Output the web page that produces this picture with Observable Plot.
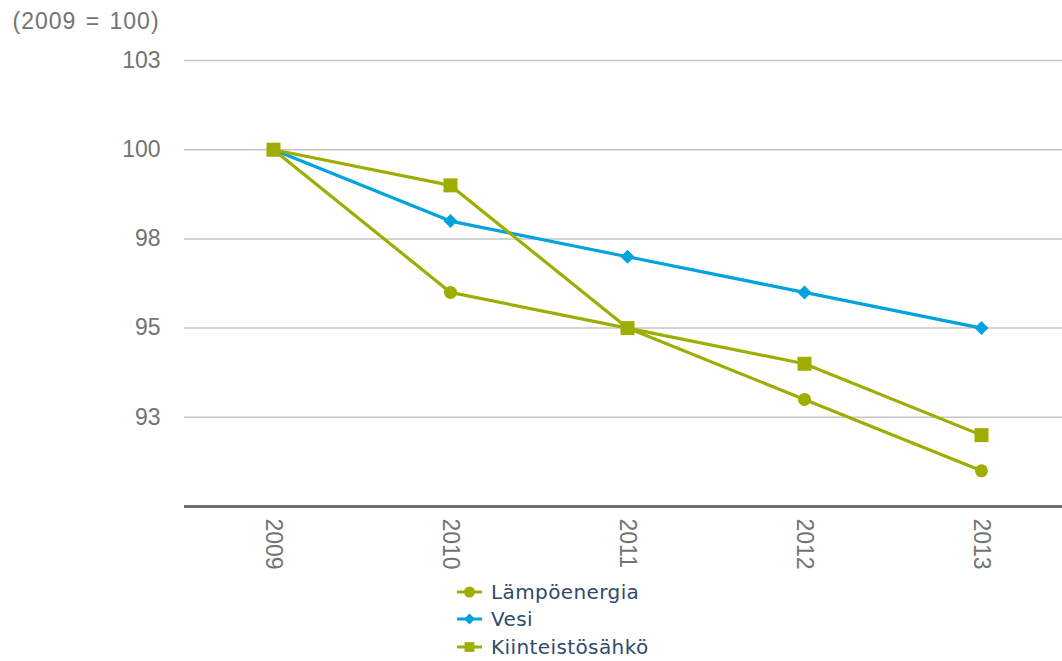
<!DOCTYPE html>
<html>
<head>
<meta charset="utf-8">
<script src="https://cdn.jsdelivr.net/npm/d3@7"></script>
<script src="https://cdn.jsdelivr.net/npm/@observablehq/plot@0.6"></script>
<style>
  html, body { margin: 0; padding: 0; background: #fff; }
  #chart { width: 1062px; }
  .legend { position: relative; height: 81px; font-family: "DejaVu Sans", Verdana, sans-serif; font-size: 20px; letter-spacing: 0.4px; color: #2e4b6b; }
  .legend .row { position: absolute; left: 456px; height: 27px; display: flex; align-items: center; }
  .legend svg { margin-right: 8px; }
  .ytitle text { letter-spacing: 1px; word-spacing: 2px; }
</style>
</head>
<body>
<div id="chart"></div>
<script>
const years = ["2009", "2010", "2011", "2012", "2013"];
const seriesNames = ["Lämpöenergia", "Vesi", "Kiinteistösähkö"];
const lampoenergia = [100, 96, 95, 93, 91];
const vesi = [100, 98, 97, 96, 95];
const kiinteistosahko = [100, 99, 95, 94, 92];
const yTicks = [92.5, 95, 97.5, 100, 102.5];
const yLabel = "(2009 = 100)";

const colors = {"Lämpöenergia": "#9fad00", "Vesi": "#00a3dd", "Kiinteistösähkö": "#9fad00"};
const symbols = {"Lämpöenergia": "circle", "Vesi": "diamond2", "Kiinteistösähkö": "square"};
const radii = {"Lämpöenergia": 6.5, "Vesi": 6.3, "Kiinteistösähkö": 7.9};

const valuesBySeries = [lampoenergia, vesi, kiinteistosahko];
const data = [];
seriesNames.forEach((s, i) => years.forEach((y, j) => data.push({series: s, year: y, value: valuesBySeries[i][j]})));

const chart = Plot.plot({
  width: 1062,
  height: 580,
  marginLeft: 184,
  marginRight: 0,
  marginTop: 60,
  marginBottom: 74,
  style: {fontFamily: "'Liberation Sans', Arial, sans-serif", fontSize: "23px", color: "#737373", background: "#fff"},
  x: {type: "point", domain: years, range: [272, 981], padding: 0, label: null},
  y: {domain: [90, 102.5], label: null},
  marks: [
    Plot.ruleY(yTicks, {stroke: "#c6c6c6", strokeWidth: 1.5}),
    Plot.ruleY([90], {stroke: "#6e6e6e", strokeWidth: 3}),
    Plot.axisY({ticks: yTicks, tickFormat: d => String(Math.round(d)), tickSize: 0, tickPadding: 24, label: null, fill: "#737373", fontSize: 23}),
    Plot.axisX({tickRotate: 90, tickSize: 0, tickPadding: 12, label: null, fill: "#737373", fontSize: 23}),
    Plot.text([yLabel], {frameAnchor: "top-left", dx: -172, dy: -48, text: d => d, textAnchor: "start", fill: "#737373", fontSize: 23, className: "ytitle"}),
    ...seriesNames.map(s => Plot.line(data.filter(d => d.series === s), {x: "year", y: "value", stroke: colors[s], strokeWidth: 3.2})),
    ...seriesNames.map(s => Plot.dot(data.filter(d => d.series === s), {x: "year", y: "value", fill: colors[s], symbol: symbols[s], r: radii[s], stroke: "none"}))
  ]
});
document.getElementById("chart").appendChild(chart);

// Legend
const legend = document.createElement("div");
legend.className = "legend";
const symPaths = {
  circle: d3.symbol(d3.symbolCircle, Math.PI * 5.5 * 5.5)(),
  diamond2: d3.symbol(d3.symbolDiamond2, Math.PI * 5 * 5)(),
  square: d3.symbol(d3.symbolSquare, Math.PI * 5.5 * 5.5)()
};
seriesNames.forEach((s, i) => {
  const row = document.createElement("div");
  row.className = "row";
  row.style.top = (i * 27.5 - 2) + "px";
  row.innerHTML = `<svg width="27" height="16"><line x1="1" x2="26" y1="8" y2="8" stroke="${colors[s]}" stroke-width="3"/><path transform="translate(13.5,8)" d="${symPaths[symbols[s]]}" fill="${colors[s]}"/></svg><span>${s}</span>`;
  legend.appendChild(row);
});
document.body.appendChild(legend);
</script>
</body>
</html>
